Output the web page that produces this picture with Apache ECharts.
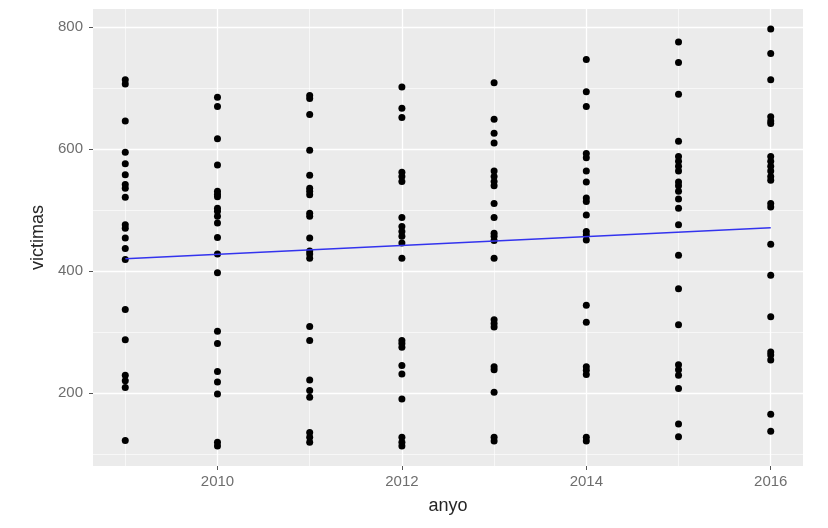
<!DOCTYPE html>
<html><head><meta charset="utf-8">
<script src="https://cdn.jsdelivr.net/npm/echarts@6/dist/echarts.min.js"></script>
<style>html,body{margin:0;padding:0;background:#fff;}#c{width:828px;height:528px;}</style>
</head><body><div id="c"></div>
<script>
const years = [2009, 2010, 2011, 2012, 2013, 2014, 2015, 2016];
const v2009 = [714, 707, 646, 595, 576, 558, 542, 536, 521, 476, 470, 454, 437, 419, 337, 287, 229, 220, 209, 122];
const v2010 = [685, 670, 617, 574, 531, 526, 522, 503, 498, 490, 479, 455, 428, 397, 301, 281, 235, 218, 198, 119, 113];
const v2011 = [688, 683, 657, 598, 557, 536, 531, 525, 495, 490, 454, 433, 428, 421, 309, 286, 221, 204, 193, 135, 127, 119];
const v2012 = [702, 667, 652, 562, 555, 547, 488, 473, 465, 457, 446, 421, 286, 281, 275, 245, 231, 190, 127, 119, 113];
const v2013 = [709, 649, 626, 610, 564, 555, 547, 540, 511, 488, 462, 457, 450, 421, 320, 314, 308, 243, 238, 201, 127, 121];
const v2014 = [747, 694, 670, 593, 586, 564, 546, 520, 514, 492, 465, 459, 451, 344, 316, 243, 237, 230, 127, 121];
const v2015 = [776, 742, 690, 613, 588, 580, 572, 564, 546, 540, 531, 518, 503, 476, 426, 371, 312, 246, 238, 229, 207, 149, 128];
const v2016 = [797, 757, 714, 653, 646, 642, 588, 580, 572, 564, 555, 549, 511, 505, 444, 393, 325, 267, 262, 254, 165, 137];
const victimasByYear = [v2009, v2010, v2011, v2012, v2013, v2014, v2015, v2016];
// linear fit (lm) endpoints
const fitYears = [2009, 2016];
const fitValues = [420, 471];
const xMajor = [2010, 2012, 2014, 2016];
const xMinor = [2009, 2011, 2013, 2015];
const yMajor = [200, 400, 600, 800];
const yMinor = [100, 300, 500, 700];

const points = [];
years.forEach((y, i) => victimasByYear[i].forEach(v => points.push([y, v])));
const fit = fitYears.map((y, i) => [y, fitValues[i]]);

const font = '"Liberation Sans", Arial, Helvetica, sans-serif';
function gridLines(axis, vals, w) {
  return vals.map(v => ({ [axis]: v, lineStyle: { color: '#ffffff', width: w, type: 'solid' } }));
}

const chart = echarts.init(document.getElementById('c'), null, { renderer: 'canvas' });
chart.setOption({
  animation: false,
  backgroundColor: '#ffffff',
  textStyle: { fontFamily: font },
  grid: { left: 93, right: 25, top: 9, bottom: 62, show: true, backgroundColor: '#ebebeb', borderWidth: 0 },
  xAxis: {
    type: 'value', min: 2008.65, max: 2016.35,
    name: 'anyo', nameLocation: 'middle', nameGap: 31,
    nameTextStyle: { color: '#262626', fontSize: 18, fontFamily: font },
    axisLine: { show: false },
    axisTick: { show: true, length: 4, lineStyle: { color: '#555' }, customValues: xMajor },
    axisLabel: { color: '#6e6e6e', fontSize: 15, margin: 8, fontFamily: font, customValues: xMajor,
      formatter: v => String(v) },
    splitLine: { show: false }
  },
  yAxis: {
    type: 'value', min: 80, max: 830,
    name: 'victimas', nameLocation: 'middle', nameGap: 46,
    nameTextStyle: { color: '#262626', fontSize: 18, fontFamily: font },
    axisLine: { show: false },
    axisTick: { show: true, length: 4, lineStyle: { color: '#555' }, customValues: yMajor },
    axisLabel: { color: '#6e6e6e', fontSize: 15, margin: 10, fontFamily: font, customValues: yMajor,
      formatter: v => String(v) },
    splitLine: { show: false }
  },
  series: [
    {
      type: 'line', data: [], z: 1, silent: true,
      markLine: {
        z: 1, silent: true, symbol: ['none', 'none'], label: { show: false }, animation: false,
        data: [].concat(
          gridLines('xAxis', xMinor, 0.6), gridLines('yAxis', yMinor, 0.6),
          gridLines('xAxis', xMajor, 1.3), gridLines('yAxis', yMajor, 1.3))
      }
    },
    {
      type: 'scatter', data: points, z: 3, symbol: 'circle', symbolSize: 7,
      itemStyle: { color: '#000000', opacity: 1 }
    },
    {
      type: 'line', data: fit, z: 4, symbol: 'none', silent: true,
      lineStyle: { color: '#3333ee', width: 1.5 }
    }
  ]
});
</script></body></html>
